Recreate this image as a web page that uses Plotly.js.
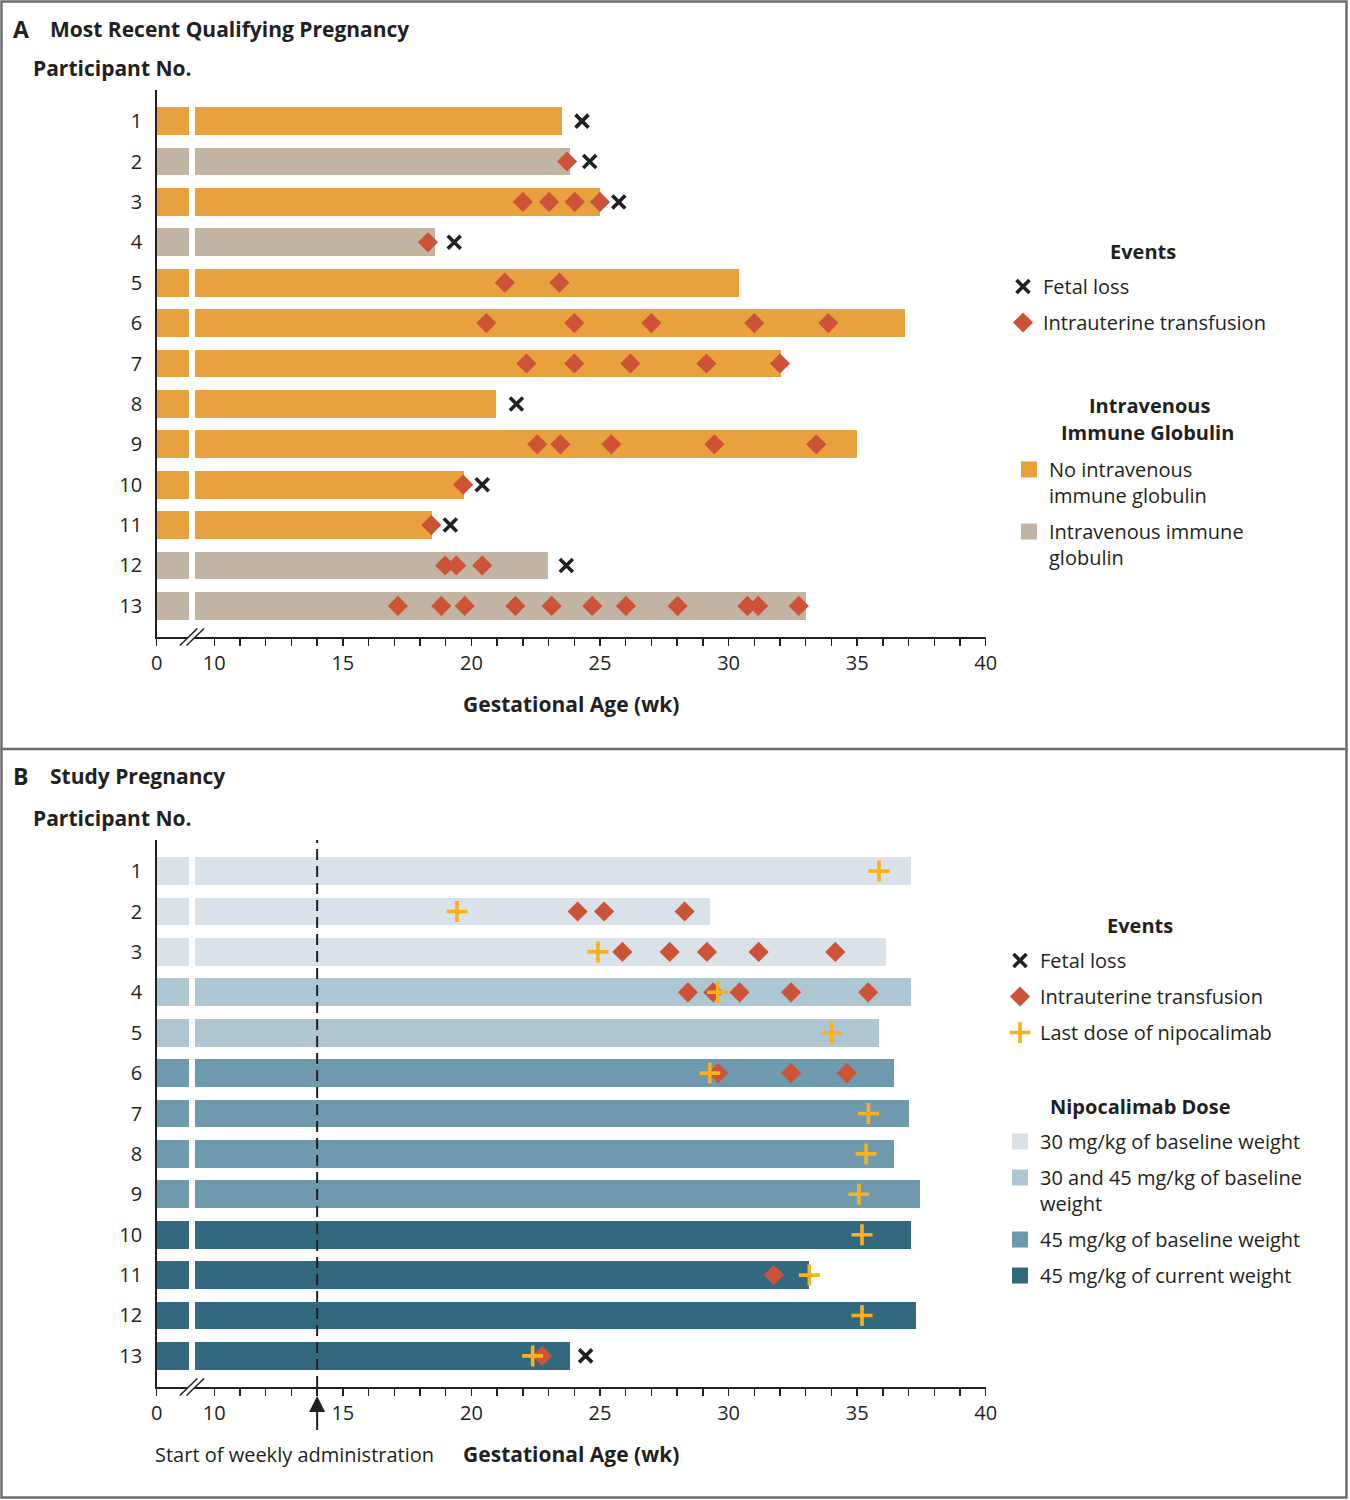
<!DOCTYPE html>
<html><head><meta charset="utf-8">
<script src="https://cdn.plot.ly/plotly-3.0.1.min.js"></script>
<style>html,body{margin:0;padding:0;background:#fff}</style>
</head><body><div id="chart" style="width:1350px;height:1500px"></div>
<script>
// ---------------- DATA ----------------
const participants = [1,2,3,4,5,6,7,8,9,10,11,12,13];

// Panel A: most recent qualifying pregnancy
const aIVIG = [false,true,false,true,false,false,false,false,false,false,false,true,true];
const aEndWeek = [23.52,23.82,25.01,18.58,30.42,36.88,32.05,20.97,35.0,19.72,18.48,22.99,33.01];
const aFetalLossWeek = [24.3,24.6,25.73,19.33,null,null,null,21.75,null,20.42,19.18,23.69,null];
const aTransfusionWeeks = [
  [],
  [23.72],
  [22.0,23.02,24.02,25.0],
  [18.31],
  [21.3,23.42],
  [20.58,24.0,27.0,31.0,33.88],
  [22.14,24.0,26.18,29.14,32.0],
  [],
  [22.56,23.46,25.44,29.45,33.41],
  [19.68],
  [18.44],
  [18.98,19.41,20.42],
  [17.14,18.83,19.74,21.71,23.12,24.70,26.01,28.02,30.73,31.15,32.73]
];

// Panel B: study pregnancy
const bDoseGroup = [0,0,0,1,1,2,2,2,2,3,3,3,3];
const bEndWeek = [37.11,29.29,36.12,37.11,35.85,36.44,37.01,36.44,37.46,37.11,33.14,37.28,23.82];
const bLastDoseWeek = [35.85,19.44,24.92,29.58,34.01,29.27,35.44,35.35,35.07,35.19,33.14,35.19,22.38];
const bFetalLossWeek = [null,null,null,null,null,null,null,null,null,null,null,null,24.44];
const bTransfusionWeeks = [
  [],
  [24.13,25.16,28.29],
  [25.87,27.71,29.16,31.17,34.15],
  [28.42,29.40,30.43,32.43,35.43],
  [],
  [29.59,32.43,34.6],
  [],[],[],[],
  [31.76],
  [],
  [22.75]
];
const startWeeklyAdminWeek = 14;

const ivigLabels = ['No intravenous<br>immune globulin','Intravenous immune<br>globulin'];
const doseLabels = ['30 mg/kg of baseline weight','30 and 45 mg/kg of baseline<br>weight','45 mg/kg of baseline weight','45 mg/kg of current weight'];
const xMajorLabels = [0,10,15,20,25,30,35,40];

// ---------------- STYLE ----------------
const W = 1350, H = 1500;
const FONT = 'Open Sans, Noto Sans, sans-serif';
const INK = '#231f20';
const ivigColors = ['#e8a13f','#c1b4a2'];
const doseColors = ['#d9e2e8','#aec6d2','#6f99ad','#33697f'];
const RED = '#cd5238', PLUS = '#fcb019';
// broken axis: "0" drawn at AXIS_ZERO, gap between BREAK_LO and BREAK_HI
const AXIS_ZERO = 7.76, BREAK_LO = 9.0, BREAK_HI = 9.26;
const BAR_W = 0.685;

const px = v => v / W;
const py = v => 1 - v / H;

const xTickVals = [AXIS_ZERO];
const xTickText = ['0'];
for (let w = 10; w <= 40; w++) {
  xTickVals.push(w);
  xTickText.push(xMajorLabels.includes(w) ? String(w) : '');
}

const traces = [];

function barTraces(xa, ya, idxs, ends, color) {
  const ys = idxs.map(i => participants[i]);
  traces.push({type:'bar', orientation:'h', xaxis:xa, yaxis:ya, y:ys,
    x: ys.map(() => BREAK_LO - AXIS_ZERO), base: AXIS_ZERO, width: BAR_W,
    marker:{color, line:{width:0}}, showlegend:false, hoverinfo:'skip'});
  traces.push({type:'bar', orientation:'h', xaxis:xa, yaxis:ya, y:ys,
    x: idxs.map(i => ends[i] - BREAK_HI), base: BREAK_HI, width: BAR_W,
    marker:{color, line:{width:0}}, showlegend:false, hoverinfo:'skip'});
}

function flatten(listOfLists) {
  const xs = [], ys = [];
  listOfLists.forEach((arr, i) => arr.forEach(v => { xs.push(v); ys.push(participants[i]); }));
  return {xs, ys};
}
function fromSingle(arr) {
  const xs = [], ys = [];
  arr.forEach((v, i) => { if (v !== null) { xs.push(v); ys.push(participants[i]); } });
  return {xs, ys};
}

const xMarker = {symbol:'x-thin-open', size:13, color:INK, line:{width:3.6, color:INK}};
const diamondMarker = {symbol:'diamond', size:15.5, color:RED, line:{width:0}};
const plusMarker = {symbol:'cross-thin-open', size:15, color:PLUS, line:{width:3.6, color:PLUS}};

// ---- Panel A ----
[0,1].forEach(g => {
  const idxs = participants.map((p,i) => i).filter(i => (aIVIG[i] ? 1 : 0) === g);
  barTraces('x','y', idxs, aEndWeek, ivigColors[g]);
});
let d = fromSingle(aFetalLossWeek);
traces.push({type:'scatter', mode:'markers', xaxis:'x', yaxis:'y', x:d.xs, y:d.ys, marker:xMarker,
  name:'Fetal loss', legend:'legend', legendgroup:'a1', hoverinfo:'skip', cliponaxis:false});
d = flatten(aTransfusionWeeks);
traces.push({type:'scatter', mode:'markers', xaxis:'x', yaxis:'y', x:d.xs, y:d.ys, marker:diamondMarker,
  name:'Intrauterine transfusion', legend:'legend', legendgroup:'a2', hoverinfo:'skip', cliponaxis:false});
ivigLabels.forEach((lab, g) => traces.push({type:'scatter', mode:'markers', xaxis:'x', yaxis:'y', x:[null], y:[null],
  marker:{symbol:'square', size:16, color:ivigColors[g], line:{width:0}}, name:lab, legend:'legend2', legendgroup:'a3'+g}));

// ---- Panel B ----
[0,1,2,3].forEach(g => {
  const idxs = participants.map((p,i) => i).filter(i => bDoseGroup[i] === g);
  barTraces('x2','y2', idxs, bEndWeek, doseColors[g]);
});
d = fromSingle(bFetalLossWeek);
traces.push({type:'scatter', mode:'markers', xaxis:'x2', yaxis:'y2', x:d.xs, y:d.ys, marker:xMarker,
  name:'Fetal loss', legend:'legend3', legendgroup:'b1', hoverinfo:'skip', cliponaxis:false});
d = flatten(bTransfusionWeeks);
traces.push({type:'scatter', mode:'markers', xaxis:'x2', yaxis:'y2', x:d.xs, y:d.ys, marker:diamondMarker,
  name:'Intrauterine transfusion', legend:'legend3', legendgroup:'b2', hoverinfo:'skip', cliponaxis:false});
d = fromSingle(bLastDoseWeek);
traces.push({type:'scatter', mode:'markers', xaxis:'x2', yaxis:'y2', x:d.xs, y:d.ys, marker:plusMarker,
  name:'Last dose of nipocalimab', legend:'legend3', legendgroup:'b3', hoverinfo:'skip', cliponaxis:false});
doseLabels.forEach((lab, g) => traces.push({type:'scatter', mode:'markers', xaxis:'x2', yaxis:'y2', x:[null], y:[null],
  marker:{symbol:'square', size:16, color:doseColors[g], line:{width:0}}, name:lab, legend:'legend4', legendgroup:'b4'+g}));

// ---------------- LAYOUT ----------------
const tickFont = {family:FONT, size:20, color:INK};
const XDOM = [px(156.7), px(985.7)];
const domA = [py(637), py(90)];
const domB = [py(1387), py(840)];

function xAxis(anchor) {
  return {domain:XDOM, anchor, range:[AXIS_ZERO,40], tickmode:'array', tickvals:xTickVals, ticktext:xTickText,
    ticks:'outside', ticklen:7, tickwidth:1.5, tickcolor:INK, showline:true, linewidth:1.5, linecolor:INK,
    showgrid:false, zeroline:false, tickfont:tickFont, fixedrange:true,
    title:{text:'<b>Gestational Age (wk)</b>', font:{family:FONT, size:21, color:INK}, standoff:23}};
}
function yAxis(anchor, dom) {
  return {domain:dom, anchor, range:[13.77,0.23], tickmode:'array', tickvals:participants,
    ticktext:participants.map(String), ticks:'', showline:true, linewidth:1.5, linecolor:INK,
    showgrid:false, zeroline:false, tickfont:tickFont, ticklabelstandoff:9, fixedrange:true};
}
function legendCfg(x, y) {
  return {x, y, xanchor:'left', yanchor:'top', bgcolor:'rgba(0,0,0,0)', borderwidth:0,
    font:{family:FONT, size:20, color:INK}, traceorder:'grouped', tracegroupgap:7, valign:'top',
    itemclick:false, itemdoubleclick:false};
}

const shapes = [];
// outer frame and panel separator
shapes.push({type:'rect', xref:'paper', yref:'paper', x0:px(1.5), x1:px(1346.5), y0:py(1497.5), y1:py(1.5),
  line:{color:'#6d6e70', width:2.5}});
shapes.push({type:'line', xref:'paper', yref:'paper', x0:px(1.5), x1:px(1346.5), y0:py(749), y1:py(749), line:{color:'#6d6e70', width:2.5}});
// axis break marks
function breakMarks(xref, axisPaperY) {
  const dy = 8.5 / H, dx = 0.34;
  shapes.push({type:'path', xref, yref:'paper',
    path:`M${BREAK_LO-dx},${axisPaperY-dy} L${BREAK_LO+dx},${axisPaperY+dy} L${BREAK_HI+dx},${axisPaperY+dy} L${BREAK_HI-dx},${axisPaperY-dy} Z`,
    fillcolor:'#ffffff', line:{width:0}});
  [BREAK_LO, BREAK_HI].forEach(b => shapes.push({type:'line', xref, yref:'paper',
    x0:b-dx, x1:b+dx, y0:axisPaperY-dy, y1:axisPaperY+dy, line:{color:INK, width:1.5}}));
}
breakMarks('x', domA[0]);
breakMarks('x2', domB[0]);
// start of weekly administration
shapes.push({type:'line', xref:'x2', yref:'y2 domain', x0:startWeeklyAdminWeek, x1:startWeeklyAdminWeek, y0:0, y1:1,
  line:{color:INK, width:2, dash:'11px,6px'}});

const titleFont = {family:FONT, size:21, color:INK};
const legTitleFont = {family:FONT, size:20, color:INK};
function txt(x, y, text, font, anchor) {
  return {xref:'paper', yref:'paper', x:px(x), y:py(y), xanchor:anchor || 'left', yanchor:'middle', text, showarrow:false, font};
}
const annotations = [
  txt(11, 29, '<b>A</b>', {family:FONT,size:23,color:INK}),
  txt(48, 29, '<b>Most Recent Qualifying Pregnancy</b>', titleFont),
  txt(31, 68, '<b>Participant No.</b>', titleFont),
  txt(11, 776, '<b>B</b>', {family:FONT,size:23,color:INK}),
  txt(48, 776, '<b>Study Pregnancy</b>', titleFont),
  txt(31, 818, '<b>Participant No.</b>', titleFont),
  // legend headings
  txt(1143, 251, '<b>Events</b>', legTitleFont, 'center'),
  txt(1149, 405, '<b>Intravenous</b>', legTitleFont, 'center'),
  txt(1147, 433, '<b>Immune Globulin</b>', legTitleFont, 'center'),
  txt(1140, 925, '<b>Events</b>', legTitleFont, 'center'),
  txt(1140, 1106, '<b>Nipocalimab Dose</b>', legTitleFont, 'center'),
  {xref:'x2', yref:'paper', x:startWeeklyAdminWeek, y:py(1396), text:' ', showarrow:true, ax:0, ay:44,
    arrowhead:2, arrowsize:1.6, arrowwidth:2, arrowcolor:INK, standoff:0, startstandoff:0},
  txt(294, 1454, 'Start of weekly administration', {family:FONT, size:20, color:INK}, 'center')
];

const layout = {
  width:W, height:H, margin:{l:0,r:0,t:0,b:0}, paper_bgcolor:'#ffffff', plot_bgcolor:'#ffffff',
  barmode:'overlay', bargap:0, showlegend:true, hovermode:false,
  font:{family:FONT, color:INK},
  xaxis:xAxis('y'), yaxis:yAxis('x', domA),
  xaxis2:xAxis('y2'), yaxis2:yAxis('x2', domB),
  legend:legendCfg(px(1003), py(267)),
  legend2:legendCfg(px(1009), py(450)),
  legend3:legendCfg(px(1000), py(941)),
  legend4:legendCfg(px(1000), py(1122)),
  shapes, annotations
};

Plotly.newPlot('chart', traces, layout, {staticPlot:true, displayModeBar:false});
</script>
</body></html>
